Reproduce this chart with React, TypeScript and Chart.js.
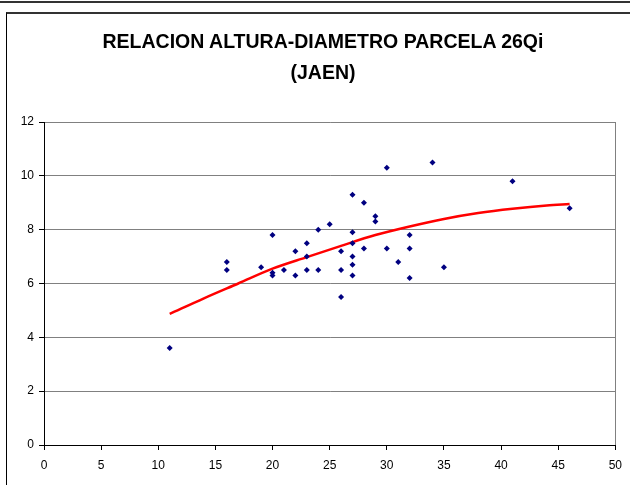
import React, { useEffect, useRef } from "react";
import { Chart, registerables } from "chart.js";

Chart.register(...registerables);

const titleLines = ["RELACION ALTURA-DIAMETRO PARCELA 26Qi", "(JAEN)"];

const diametro = [
  11, 16, 16, 19, 20, 20, 20, 21, 22, 22,
  23, 23, 23, 24, 24, 25, 26, 26, 26, 27,
  27, 27, 27, 27, 27, 28, 28, 29, 29, 30,
  30, 31, 32, 32, 32, 34, 35, 41, 46,
];
const altura = [
  3.6, 6.8, 6.5, 6.6, 7.8, 6.4, 6.3, 6.5, 7.2, 6.3,
  7.5, 7.0, 6.5, 8.0, 6.5, 8.2, 7.2, 6.5, 5.5, 9.3,
  7.9, 7.5, 7.0, 6.7, 6.3, 9.0, 7.3, 8.5, 8.3, 10.3,
  7.3, 6.8, 7.8, 7.3, 6.2, 10.5, 6.6, 9.8, 8.8,
];

const trendX = [11, 14, 17, 20, 23, 26, 29, 32, 35, 38, 41, 44, 46];
const trendY = [4.87, 5.45, 6.0, 6.55, 6.98, 7.4, 7.8, 8.12, 8.4, 8.62, 8.78, 8.9, 8.95];

const xTicks = [0, 5, 10, 15, 20, 25, 30, 35, 40, 45, 50];
const yTicks = [0, 2, 4, 6, 8, 10, 12];

const FONT = "'Liberation Sans', Arial, sans-serif";

const plotBorder = {
  id: "plotBorder",
  beforeDatasetsDraw(chart: any) {
    const { ctx, chartArea } = chart;
    ctx.save();
    ctx.strokeStyle = "#808080";
    ctx.lineWidth = 1;
    ctx.beginPath();
    ctx.moveTo(Math.round(chartArea.right) + 0.5, chartArea.top);
    ctx.lineTo(Math.round(chartArea.right) + 0.5, chartArea.bottom);
    ctx.stroke();
    ctx.restore();
  },
};

export default function App() {
  const ref = useRef<HTMLCanvasElement | null>(null);

  useEffect(() => {
    if (!ref.current) return;
    const points = diametro.map((x, i) => ({ x, y: altura[i] }));
    const trend = trendX.map((x, i) => ({ x, y: trendY[i] }));
    const chart = new Chart(ref.current, {
      type: "scatter",
      data: {
        datasets: [
          {
            label: "Altura",
            data: points,
            backgroundColor: "#000080",
            borderColor: "#000080",
            borderWidth: 0,
            pointStyle: "rectRot",
            pointRadius: 3,
            order: 1,
          },
          {
            label: "Tendencia",
            type: "line",
            data: trend,
            borderColor: "#FF0000",
            borderWidth: 2.5,
            pointRadius: 0,
            showLine: true,
            fill: false,
            cubicInterpolationMode: "monotone",
            order: 2,
          } as any,
        ],
      },
      options: {
        animation: false,
        responsive: false,
        maintainAspectRatio: false,
        layout: { padding: { left: 14, right: 14, top: 122, bottom: 9 } },
        plugins: {
          legend: { display: false },
          tooltip: { enabled: false },
          title: { display: false },
        },
        scales: {
          x: {
            type: "linear",
            min: 0,
            max: 50,
            afterBuildTicks: (s: any) => {
              s.ticks = xTicks.map((v) => ({ value: v }));
            },
            afterFit: (s: any) => {
              s.height = 31;
            },
            grid: {
              drawOnChartArea: false,
              drawTicks: true,
              tickLength: 5,
              tickColor: "#000",
            },
            border: { color: "#000", width: 1 },
            ticks: {
              color: "#000",
              font: { family: FONT, size: 12 },
              padding: 8,
              maxRotation: 0,
              autoSkip: false,
            },
          },
          y: {
            type: "linear",
            min: 0,
            max: 12,
            afterBuildTicks: (s: any) => {
              s.ticks = yTicks.map((v) => ({ value: v }));
            },
            afterFit: (s: any) => {
              s.width = 30;
            },
            grid: {
              color: "#808080",
              lineWidth: 1,
              drawTicks: true,
              tickLength: 5,
              tickColor: "#000",
            },
            border: { color: "#000", width: 1 },
            ticks: {
              color: "#000",
              font: { family: FONT, size: 12 },
              padding: 5,
              autoSkip: false,
            },
          },
        },
      },
      plugins: [plotBorder],
    });
    return () => chart.destroy();
  }, []);

  return (
    <div style={{ position: "absolute", left: 0, top: 0, width: 630, height: 485, background: "#fff", overflow: "hidden" }}>
      <div style={{ position: "absolute", left: 0, top: 1, width: 630, height: 0, borderTop: "2px solid #333" }} />
      <div
        style={{
          position: "absolute",
          left: 6,
          top: 12,
          width: 640,
          height: 500,
          borderTop: "2px solid #333",
          borderLeft: "1px solid #000",
        }}
      />
      <canvas ref={ref} width={630} height={485} style={{ position: "absolute", left: 0, top: 0, width: 630, height: 485 }} />
      <div
        style={{
          position: "absolute",
          left: 0,
          top: 25.5,
          width: 646,
          textAlign: "center",
          fontFamily: FONT,
          fontWeight: "bold",
          fontSize: 19.5,
          lineHeight: "31px",
          color: "#000",
          whiteSpace: "nowrap",
        }}
      >
        {titleLines.map((t, i) => (
          <div key={i}>{t}</div>
        ))}
      </div>
    </div>
  );
}
